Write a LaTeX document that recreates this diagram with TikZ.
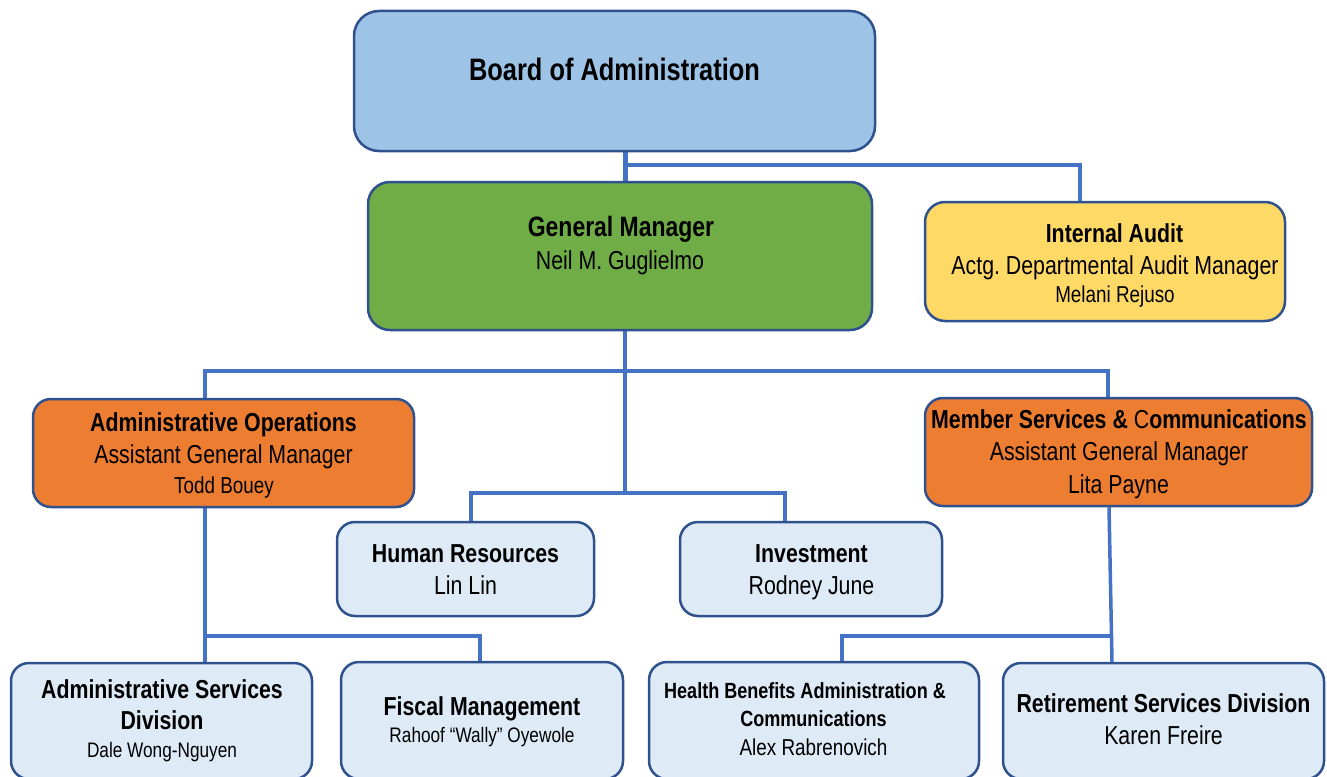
\documentclass[tikz,border=0pt]{standalone}
\usepackage{fontspec}
\setmainfont{Liberation Sans}[FakeStretch=0.82]
\frenchspacing
\usetikzlibrary{backgrounds}
\definecolor{bordc}{HTML}{2F528F}
\definecolor{connc}{HTML}{4472C4}
\definecolor{boardc}{HTML}{9DC3E6}
\definecolor{gmc}{HTML}{70AD47}
\definecolor{iac}{HTML}{FFD966}
\definecolor{orc}{HTML}{ED7D31}
\definecolor{ltc}{HTML}{DEEBF7}
\tikzset{
  box/.style={draw=bordc, line width=2.5pt, rounded corners=18pt, inner sep=0pt, rectangle},
  conn/.style={draw=connc, line width=3.5pt},
  txt/.style={anchor=base, inner sep=0pt, text=black},
  fb/.style={txt, font=\fontsize{26}{30}\selectfont\bfseries},
  fr/.style={txt, font=\fontsize{26}{30}\selectfont},
  fs/.style={txt, font=\fontsize{23}{27}\selectfont},
  fxs/.style={txt, font=\fontsize{21}{25}\selectfont},
}
\begin{document}
\begin{tikzpicture}[x=1pt,y=-1pt]
\useasboundingbox (0,0) rectangle (1327,776);
\clip (0,0) rectangle (1327,776);
% boxes
\node[box, fill=boardc, rounded corners=25pt, minimum width=521pt, minimum height=140pt] (board) at (614.5,81) {};
\node[box, fill=gmc, rounded corners=22pt, minimum width=504pt, minimum height=148pt] (gm) at (620,256) {};
\node[box, fill=iac, rounded corners=20pt, minimum width=360pt, minimum height=119pt] (ia) at (1105,261.5) {};
\node[box, fill=orc, minimum width=381pt, minimum height=108pt] (ao) at (223.5,453) {};
\node[box, fill=orc, minimum width=387pt, minimum height=108pt] (msc) at (1118.5,452) {};
\node[box, fill=ltc, minimum width=257pt, minimum height=94pt] (hr) at (465.5,569) {};
\node[box, fill=ltc, minimum width=262pt, minimum height=94pt] (inv) at (811,569) {};
\node[box, fill=ltc, minimum width=301pt, minimum height=116pt] (asd) at (161.5,721) {};
\node[box, fill=ltc, minimum width=282pt, minimum height=117pt] (fm) at (482,720.5) {};
\node[box, fill=ltc, minimum width=330pt, minimum height=117pt] (hb) at (814,720.5) {};
\node[box, fill=ltc, minimum width=321pt, minimum height=116pt] (rs) at (1163.5,721) {};
% junction coordinates
\coordinate (j1) at (625,165);
\coordinate (iax) at (1080,0);
\coordinate (j2) at (625,371);
\coordinate (aox) at (205,0);
\coordinate (mscx) at (1108,0);
\coordinate (j3) at (625,493);
\coordinate (hrx) at (471,0);
\coordinate (invx) at (785,0);
\coordinate (j4) at (205,636);
\coordinate (fmx) at (480,0);
\coordinate (mscbx) at (1109,0);
\coordinate (rsx) at (1112,0);
\coordinate (j5) at (1111.5,636);
\coordinate (hbx) at (842,0);
\begin{scope}[on background layer]
\draw[conn, line width=5pt] (board.south -| j1) -- (gm.north -| j1);
\draw[conn] (j1) -| (ia.north -| iax);
\draw[conn] (gm.south -| j2) -- (j3);
\draw[conn] (ao.north -| aox) |- (j2) -| (msc.north -| mscx);
\draw[conn] (hr.north -| hrx) |- (j3) -| (inv.north -| invx);
\draw[conn] (ao.south -| aox) -- (asd.north -| aox);
\draw[conn] (j4) -| (fm.north -| fmx);
\draw[conn] (msc.south -| mscbx) -- (rs.north -| rsx);
\draw[conn] (j5) -| (hb.north -| hbx);
\end{scope}
% texts
\node[txt, font=\fontsize{31}{36}\selectfont\bfseries] (t1) at (614.5,81) {Board of Administration};
\node[txt, font=\fontsize{28}{32}\selectfont\bfseries] (t2) at (621,236) {General Manager};
\node[fr] (t3) at (620,269) {Neil M. Guglielmo};
\node[fb] (t4) at (1114.5,242) {Internal Audit};
\node[fr] (t5) at (1115,274) {Actg. Departmental Audit Manager};
\node[fs] (t6) at (1115,302) {Melani Rejuso};
\node[fb] (t7) at (223.5,431) {Administrative Operations};
\node[fr] (t8) at (223.5,463) {Assistant General Manager};
\node[fs] (t9) at (224,493) {Todd Bouey};
\node[fb] (t10) at (1119,428) {Member Services \& {\mdseries C}ommunications};
\node[fr] (t11) at (1119,460) {Assistant General Manager};
\node[fr] (t12) at (1118.5,493) {Lita Payne};
\node[fb] (t13) at (465.5,562) {Human Resources};
\node[fr] (t14) at (465.5,594) {Lin Lin};
\node[fb] (t15) at (811.5,562) {Investment};
\node[fr] (t16) at (811.5,594) {Rodney June};
\node[fb] (t17) at (162,698) {Administrative Services};
\node[fb] (t18) at (162,729) {Division};
\node[fxs] (t19) at (162,757) {Dale Wong-Nguyen};
\node[fb] (t20) at (482,715) {Fiscal Management};
\node[fxs] (t21) at (482,742) {Rahoof “Wally” Oyewole};
\node[txt, font=\fontsize{22}{26}\selectfont\bfseries] (t22) at (805,698) {Health Benefits Administration \&};
\node[txt, font=\fontsize{22}{26}\selectfont\bfseries] (t23) at (813.5,726) {Communications};
\node[fs] (t24) at (813.5,755) {Alex Rabrenovich};
\node[fb] (t25) at (1163.5,712) {Retirement Services Division};
\node[fr] (t26) at (1163.5,744) {Karen Freire};
\end{tikzpicture}
\end{document}
